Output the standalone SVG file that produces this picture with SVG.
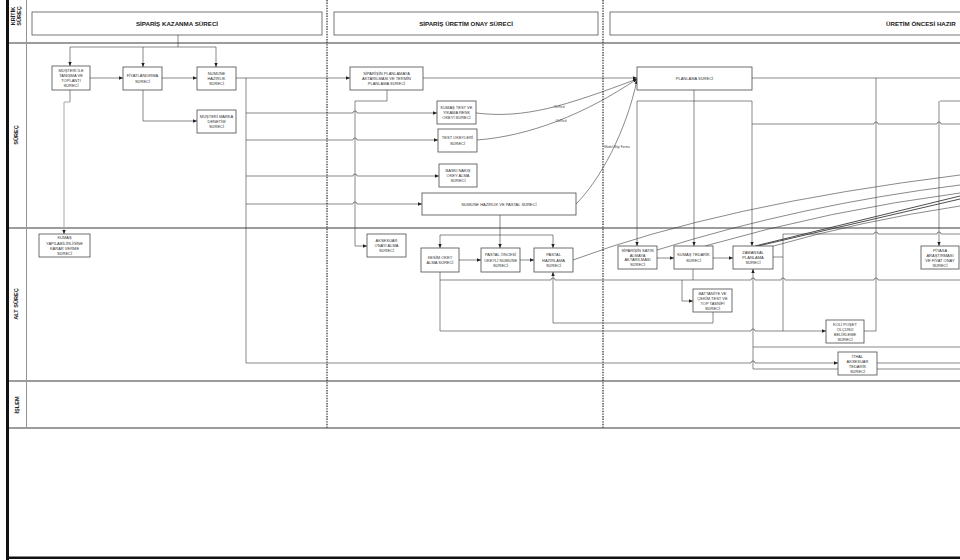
<svg xmlns="http://www.w3.org/2000/svg" width="960" height="560" viewBox="0 0 960 560">
<defs>
<marker id="ar" markerUnits="userSpaceOnUse" markerWidth="4" markerHeight="4" refX="4" refY="2" orient="auto"><path d="M0,0.3 L4,2 L0,3.7 z" fill="#222"/></marker>
<style>
.lane{stroke:#9c9c9c;stroke-width:1.8;fill:none}
.sep{stroke:#444;stroke-width:1.4;stroke-dasharray:1.4,1.2;fill:none}
.box{fill:#fff;stroke:#4a4a4a;stroke-width:0.8}
.hb{fill:#fff;stroke:#555;stroke-width:0.8}
.c{fill:none;stroke:#3a3a3a;stroke-width:0.6}
.ca{fill:none;stroke:#3a3a3a;stroke-width:0.6;marker-end:url(#ar)}
.g{fill:none;stroke:#a8a8a8;stroke-width:1}
.t{font-family:"Liberation Sans",Arial,sans-serif;font-size:4px;fill:#333;text-anchor:middle}
.h{font-family:"Liberation Sans",Arial,sans-serif;font-size:6.2px;font-weight:bold;fill:#222;text-anchor:middle}
.l{font-family:"Liberation Sans",Arial,sans-serif;font-size:5.6px;font-weight:bold;fill:#222;text-anchor:middle}
.s{font-family:"Liberation Sans",Arial,sans-serif;font-size:3.2px;fill:#444;text-anchor:middle}
</style>
</defs>
<rect width="960" height="560" fill="#fff"/>
<g id="frame">
<rect x="6" y="0" width="3" height="560" fill="#111"/>
<rect x="6" y="556.5" width="954" height="2.5" fill="#111"/>
<line x1="26.5" y1="0" x2="26.5" y2="428" stroke="#777" stroke-width="0.8"/>
<line class="lane" x1="9" y1="43" x2="960" y2="43"/>
<line class="lane" x1="9" y1="228" x2="960" y2="228"/>
<line class="lane" x1="9" y1="381" x2="960" y2="381"/>
<line class="lane" x1="9" y1="428" x2="960" y2="428"/>
<line class="sep" x1="327" y1="0" x2="327" y2="428"/>
<line class="sep" x1="603" y1="0" x2="603" y2="428"/>
<text class="l" transform="translate(15,16) rotate(-90)">KRİTİK</text>
<text class="l" transform="translate(21,16) rotate(-90)">SÜREÇ</text>
<text class="l" transform="translate(18,135) rotate(-90)">SÜREÇ</text>
<text class="l" transform="translate(18,304) rotate(-90)">ALT SÜREÇ</text>
<text class="l" transform="translate(19,405) rotate(-90)">İŞLEM</text>
</g>
<g id="headers">
<g id="h1"><rect class="hb" x="32" y="12" width="290" height="23"/><text class="h" x="177" y="25.7">SİPARİŞ KAZANMA SÜRECİ</text></g>
<g id="h2"><rect class="hb" x="334" y="12" width="264" height="23"/><text class="h" x="466" y="25.7">SİPARİŞ ÜRETİM ONAY SÜRECİ</text></g>
<g id="h3"><rect class="hb" x="610" y="12" width="380" height="23"/><text class="h" x="886" y="25.7" style="text-anchor:start">ÜRETİM ÖNCESİ HAZIR</text></g>
</g>
<g id="connectors">
<path class="c" d="M178,35 V47 M70,47 H216"/>
<path class="ca" d="M70,47 V66"/>
<path class="ca" d="M143,47 V67"/>
<path class="ca" d="M216,47 V67"/>
<path class="ca" d="M90,78 H123"/>
<path class="ca" d="M162,78 H197"/>
<path class="ca" d="M143,90 V121 H197"/>
<path class="c" d="M70,90 V102"/>
<path class="g" d="M70,102 H64 V231"/>
<path class="ca" d="M64,230 V234"/>
<path class="ca" d="M236,78 H350"/>
<path class="c" d="M246,78 V363"/>
<path class="ca" d="M246,363 H751 A2,2 0 0 1 755,363 H838"/>
<path class="ca" d="M246,113 H353 A2,2 0 0 1 357,113 H437"/>
<path class="ca" d="M246,140 H353 A2,2 0 0 1 357,140 H438"/>
<path class="ca" d="M246,176 H353 A2,2 0 0 1 357,176 H439"/>
<path class="ca" d="M246,204 H353 A2,2 0 0 1 357,204 H422"/>
<path class="ca" d="M387,90 V101 H355 V246 H367"/>
<path class="ca" d="M423,78 H637"/>
<path class="ca" d="M476,113 C525,119 565,106 637,79"/>
<path class="ca" d="M477,140 C530,136 585,114 637,79"/>
<path class="ca" d="M576,204 C600,180 626,132 637,80"/>
<path class="c" d="M694,90 V101 M637,101 H752"/>
<path class="ca" d="M637,101 V246"/>
<path class="ca" d="M694,101 V246"/>
<path class="ca" d="M752,101 V246"/>
<path class="c" d="M752,78 H960"/>
<path class="c" d="M864,331 H876 V78"/>
<path class="c" d="M752,124 H874 A2,2 0 0 1 878,124 H937 A2,2 0 0 1 941,124 H960"/>
<path class="c" d="M940,101 H960"/>
<path class="ca" d="M939,101 V246"/>
<path class="c" d="M783,331 V234 H874 A2,2 0 0 1 878,234 H937 A2,2 0 0 1 941,234 H960"/>
<path class="c" d="M773,257 H783"/>
<path class="ca" d="M440,272 V331 H751 A2,2 0 0 1 755,331 H826"/>
<path class="c" d="M440,280 H551 A2,2 0 0 1 555,280 H751 A2,2 0 0 1 755,280 H781 A2,2 0 0 1 785,280 H874 A2,2 0 0 1 878,280 H960"/>
<path class="c" d="M693,269 V280"/>
<path class="ca" d="M682,280 V301 H693"/>
<path class="ca" d="M713,312 V323 H553 V272"/>
<path class="ca" d="M753,369 V269"/>
<path class="c" d="M753,347 H960"/>
<path class="c" d="M753,369 H838"/>
<path class="c" d="M877,363 H960 M877,369 H960"/>
<path class="ca" d="M459,260 H481"/>
<path class="ca" d="M520,260 H534"/>
<path class="c" d="M500,215 V235 M440,235 H553"/>
<path class="ca" d="M440,235 V248"/>
<path class="ca" d="M500,235 V248"/>
<path class="ca" d="M553,235 V248"/>
<path class="ca" d="M657,258 H674"/>
<path class="ca" d="M713,258 H733"/>
<path class="c" d="M573,260 Q720,205 960,175"/>
<path class="c" d="M657,250 Q800,205 960,185"/>
<path class="c" d="M705,246 Q830,210 960,193"/>
<path class="c" d="M755,246 L960,196" style="stroke-width:0.9"/>
<path class="c" d="M758,246 L960,199" style="stroke-width:0.9"/>
<path class="c" d="M770,247 Q860,221 960,206"/>
<text class="s" x="559" y="108">Ok/Red</text>
<text class="s" x="561" y="122">Ok/Red</text>
<text class="s" x="617" y="148">Model Bilgi Formu</text>
</g>
<g id="n-musteri"><rect class="box" x="52" y="66" width="38" height="24"/><text class="t" x="71" y="71.8">MÜŞTERİ İLE<tspan x="71" dy="5.2">TANIŞMA VE</tspan><tspan x="71" dy="5.2">TOPLANTI</tspan><tspan x="71" dy="5.2">SÜRECİ</tspan></text></g>
<g id="n-fiyat"><rect class="box" x="123" y="67" width="39" height="23"/><text class="t" x="142.5" y="77.4">FİYATLANDIRMA<tspan x="142.5" dy="5.2">SÜRECİ</tspan></text></g>
<g id="n-numune"><rect class="box" x="197" y="67" width="39" height="23"/><text class="t" x="216.5" y="74.8">NUMUNE<tspan x="216.5" dy="5.2">HAZIRLIK</tspan><tspan x="216.5" dy="5.2">SÜRECİ</tspan></text></g>
<g id="n-marka"><rect class="box" x="197" y="110" width="39" height="23"/><text class="t" x="216.5" y="117.8">MÜŞTERİ MARKA<tspan x="216.5" dy="5.2">DENETİM</tspan><tspan x="216.5" dy="5.2">SÜRECİ</tspan></text></g>
<g id="n-kumasyap"><rect class="box" x="39" y="234" width="51" height="23"/><text class="t" x="64.5" y="239.4">KUMAŞ<tspan x="64.5" dy="5.2">YAPILABİLİRLİĞİNE</tspan><tspan x="64.5" dy="5.2">KARAR VERME</tspan><tspan x="64.5" dy="5.2">SÜRECİ</tspan></text></g>
<g id="n-sipplan"><rect class="box" x="350" y="67" width="73" height="23"/><text class="t" x="386.5" y="74.8">SİPARİŞİN PLANLAMAYA<tspan x="386.5" dy="5.2">AKTARILMASI VE TERMİN</tspan><tspan x="386.5" dy="5.2">PLANLAMA SÜRECİ</tspan></text></g>
<g id="n-kumastest"><rect class="box" x="437" y="101" width="39" height="23"/><text class="t" x="456.5" y="108.8">KUMAŞ TEST VE<tspan x="456.5" dy="5.2">YIKAMA RENK</tspan><tspan x="456.5" dy="5.2">OKEYİ SÜRECİ</tspan></text></g>
<g id="n-testokey"><rect class="box" x="438" y="129" width="39" height="23"/><text class="t" x="457.5" y="139.4">TEST OKEYLERİ<tspan x="457.5" dy="5.2">SÜRECİ</tspan></text></g>
<g id="n-baski"><rect class="box" x="439" y="164" width="38" height="23"/><text class="t" x="458" y="171.8">BASKI NAKIŞ<tspan x="458" dy="5.2">OKEY ALMA</tspan><tspan x="458" dy="5.2">SÜRECİ</tspan></text></g>
<g id="n-numunepastal"><rect class="box" x="422" y="193" width="154" height="22"/><text class="t" x="499" y="205.5">NUMUNE HAZIRLIK  VE PASTAL SÜRECİ</text></g>
<g id="n-aksesuar"><rect class="box" x="367" y="234" width="39" height="23"/><text class="t" x="386.5" y="241.8">AKSESUAR<tspan x="386.5" dy="5.2">ONAYI ALMA</tspan><tspan x="386.5" dy="5.2">SÜRECİ</tspan></text></g>
<g id="n-kesim"><rect class="box" x="421" y="248" width="38" height="24"/><text class="t" x="440" y="258.9">KESİM OKEY<tspan x="440" dy="5.2">ALMA SÜRECİ</tspan></text></g>
<g id="n-pastaloncesi"><rect class="box" x="481" y="248" width="39" height="24"/><text class="t" x="500.5" y="256.3">PASTAL ÖNCESİ<tspan x="500.5" dy="5.2">OKEYLİ NUMUNE</tspan><tspan x="500.5" dy="5.2">SÜRECİ</tspan></text></g>
<g id="n-pastalhaz"><rect class="box" x="534" y="248" width="39" height="24"/><text class="t" x="553.5" y="256.3">PASTAL<tspan x="553.5" dy="5.2">HAZIRLAMA</tspan><tspan x="553.5" dy="5.2">SÜRECİ</tspan></text></g>
<g id="n-planlama"><rect class="box" x="637" y="67" width="115" height="23"/><text class="t" x="694.5" y="80">PLANLAMA SÜRECİ</text></g>
<g id="n-sipsatin"><rect class="box" x="618" y="246" width="39" height="23"/><text class="t" x="637.5" y="251.6">SİPARİŞİN SATIN<tspan x="637.5" dy="4.9">ALMAYA</tspan><tspan x="637.5" dy="4.9">AKTARILMASI</tspan><tspan x="637.5" dy="4.9">SÜRECİ</tspan></text></g>
<g id="n-kumastedarik"><rect class="box" x="674" y="246" width="39" height="23"/><text class="t" x="693.5" y="256.4">KUMAŞ TEDARİK<tspan x="693.5" dy="5.2">SÜRECİ</tspan></text></g>
<g id="n-zamansal"><rect class="box" x="733" y="246" width="40" height="23"/><text class="t" x="753" y="253.8">ZAMANSAL<tspan x="753" dy="5.2">PLANLAMA</tspan><tspan x="753" dy="5.2">SÜRECİ</tspan></text></g>
<g id="n-battaniye"><rect class="box" x="693" y="289" width="39" height="23"/><text class="t" x="712.5" y="294.6">BATTANİYE VE<tspan x="712.5" dy="5">ÇEKİM TEST VE</tspan><tspan x="712.5" dy="5">TOP TASNİFİ</tspan><tspan x="712.5" dy="5">SÜRECİ</tspan></text></g>
<g id="n-koli"><rect class="box" x="826" y="320" width="38" height="23"/><text class="t" x="845" y="325.6">KOLİ POŞET<tspan x="845" dy="5">ÖLÇÜSÜ</tspan><tspan x="845" dy="5">BELİRLEME</tspan><tspan x="845" dy="5">SÜRECİ</tspan></text></g>
<g id="n-ithal"><rect class="box" x="838" y="352" width="39" height="23"/><text class="t" x="857.5" y="357.6">İTHAL<tspan x="857.5" dy="5">AKSESUAR</tspan><tspan x="857.5" dy="5">TEDARİK</tspan><tspan x="857.5" dy="5">SÜRECİ</tspan></text></g>
<g id="n-piyasa"><rect class="box" x="921" y="246" width="38" height="23"/><text class="t" x="940" y="251.6">PİYASA<tspan x="940" dy="5">ARAŞTIRMASI</tspan><tspan x="940" dy="5">VE FİYAT ONAY</tspan><tspan x="940" dy="5">SÜRECİ</tspan></text></g>
</svg>
